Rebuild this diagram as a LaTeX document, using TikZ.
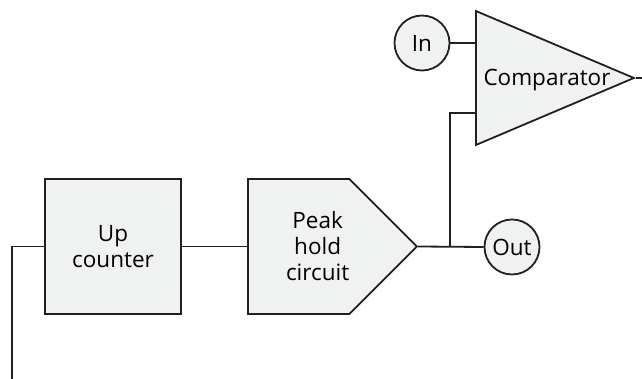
\documentclass[tikz,border=0pt]{standalone}
\usepackage{fontspec}
\setmainfont{Open Sans}
\usetikzlibrary{shapes.geometric,shapes.symbols}
\definecolor{blockfill}{HTML}{F0F1F1}
\definecolor{wire}{HTML}{231F20}
\newcommand{\lbl}{\fontsize{22.5}{26}\selectfont}

\begin{document}
\begin{tikzpicture}[x=1pt,y=-1pt,line width=1.8pt,
  block/.style={draw=wire,fill=blockfill,align=center,font=\lbl,inner sep=0pt},
  txt/.style={align=center,font=\lbl,inner sep=0pt},
  port/.style={block,circle,minimum size=55pt}]
  \useasboundingbox (0,0) rectangle (642,379);
  \node[block,minimum width=136pt,minimum height=135pt] (counter) at (113,246.5) {Up\\counter};
  \node[block,signal,signal to=east,signal pointer angle=90,
        minimum width=169pt,minimum height=135pt,anchor=west] (peak) at (247,246.5) {};
  \node[txt] (peaktxt) at ([xshift=19pt]peak.center) {Peak\\hold\\circuit};
  \node[block,isosceles triangle,isosceles triangle stretches,
        minimum width=134pt,minimum height=158pt,anchor=lower side] (cmp) at (475,78) {};
  \node[txt] (cmptxt) at (547,80) {Comparator};
  \node[port] (in) at (422,43) {In};
  \node[port] (out) at (512,247) {Out};
  \coordinate (jn) at (450,247);
  \coordinate (fb) at (475,112.7);
  \coordinate (cmpout) at (642,78);
  \coordinate (loop) at (12,379);
  \draw[wire] (counter.east) -- (peak.west);
  \draw[wire] (peak.east) -- (out.west);
  \draw[wire] (jn) |- (fb);
  \draw[wire] (in.east) -- (in.east -| cmp.lower side);
  \draw[wire] (cmp.apex) -- (cmpout);
  \draw[wire] (counter.west) -| (loop);
\end{tikzpicture}
\end{document}
